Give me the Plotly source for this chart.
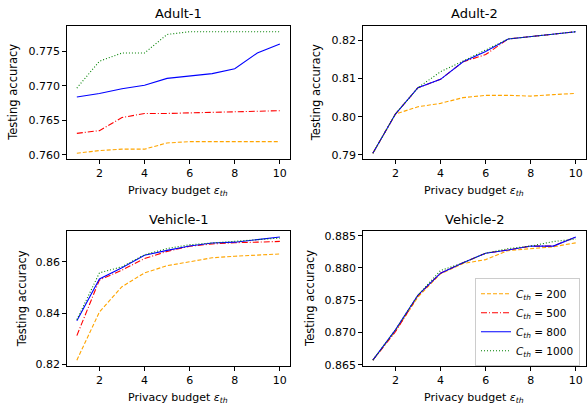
import plotly.graph_objects as go

eps = [1, 2, 3, 4, 5, 6, 7, 8, 9, 10]
c_labels = ["200", "500", "800", "1000"]

adult1_200 = [0.7602, 0.7606, 0.7608, 0.7608, 0.7617, 0.7619, 0.7619, 0.7619, 0.7619, 0.7619]
adult1_500 = [0.7631, 0.7635, 0.7654, 0.7660, 0.7660, 0.7661, 0.7662, 0.7663, 0.7664, 0.7664]
adult1_800 = [0.7684, 0.7689, 0.7696, 0.7701, 0.7711, 0.7714, 0.7718, 0.7725, 0.7748, 0.7761]
adult1_1000 = [0.7697, 0.7736, 0.7748, 0.7748, 0.7775, 0.7779, 0.7779, 0.7779, 0.7779, 0.7779]

adult2_200 = [0.7904, 0.8007, 0.8026, 0.8035, 0.8050, 0.8056, 0.8056, 0.8054, 0.8058, 0.8061]
adult2_500 = [0.7904, 0.8007, 0.8076, 0.8098, 0.8144, 0.8163, 0.8204, 0.8210, 0.8216, 0.8223]
adult2_800 = [0.7904, 0.8007, 0.8076, 0.8098, 0.8144, 0.8171, 0.8204, 0.8210, 0.8216, 0.8223]
adult2_1000 = [0.7904, 0.8007, 0.8076, 0.8118, 0.8146, 0.8176, 0.8204, 0.8210, 0.8216, 0.8223]

veh1_200 = [0.8216, 0.8404, 0.8503, 0.8557, 0.8585, 0.8600, 0.8616, 0.8622, 0.8626, 0.8631]
veh1_500 = [0.8312, 0.8529, 0.8568, 0.8613, 0.8641, 0.8661, 0.8670, 0.8675, 0.8677, 0.8680]
veh1_800 = [0.8370, 0.8533, 0.8577, 0.8626, 0.8645, 0.8662, 0.8674, 0.8677, 0.8687, 0.8697]
veh1_1000 = [0.8374, 0.8557, 0.8581, 0.8628, 0.8652, 0.8667, 0.8674, 0.8680, 0.8687, 0.8693]

veh2_200 = [0.8657, 0.8702, 0.8755, 0.8791, 0.8807, 0.8813, 0.8827, 0.8830, 0.8833, 0.8839]
veh2_500 = [0.8657, 0.8701, 0.8757, 0.8792, 0.8808, 0.8823, 0.8828, 0.8834, 0.8834, 0.8848]
veh2_800 = [0.8657, 0.8704, 0.8758, 0.8792, 0.8808, 0.8823, 0.8828, 0.8834, 0.8834, 0.8848]
veh2_1000 = [0.8657, 0.8704, 0.8758, 0.8796, 0.8808, 0.8823, 0.8830, 0.8834, 0.8841, 0.8845]

titles = ["Adult-1", "Adult-2", "Vehicle-1", "Vehicle-2"]
panels = [
    [adult1_200, adult1_500, adult1_800, adult1_1000],
    [adult2_200, adult2_500, adult2_800, adult2_1000],
    [veh1_200, veh1_500, veh1_800, veh1_1000],
    [veh2_200, veh2_500, veh2_800, veh2_1000],
]
ytick_fmt = [".3f", ".2f", ".2f", ".3f"]
ytick_dt = [0.005, 0.01, 0.02, 0.005]

colors = ["orange", "red", "blue", "green"]
dashes = ["4px,2px", "6px,2px,1px,2px", "solid", "1px,2px"]

W, H = 587, 412
FONT = "DejaVu Sans"

# panel boxes in pixels: (left, right, top, bottom)
boxes = [
    (66.7, 290.0, 25.0, 160.7),
    (362.7, 586.0, 25.0, 160.7),
    (66.7, 290.0, 233.3, 370.7),
    (362.7, 586.0, 233.3, 370.7),
]
ylabel_x = [13.3, 316.7, 21.7, 309.3]

fig = go.Figure()
annotations = []
for i, (series, title) in enumerate(zip(panels, titles)):
    n = i + 1
    xa = "x" if n == 1 else f"x{n}"
    ya = "y" if n == 1 else f"y{n}"
    for j, ys in enumerate(series):
        fig.add_trace(go.Scatter(
            x=eps, y=ys, mode="lines", xaxis=xa, yaxis=ya,
            line=dict(color=colors[j], width=1.1, dash=dashes[j]),
            name=f"<i>C</i><sub><i>th</i></sub> = {c_labels[j]}",
            showlegend=(n == 4),
        ))
    l, r, t, b = boxes[i]
    allv = [v for s in series for v in s]
    lo, hi = min(allv), max(allv)
    pad = (hi - lo) * 0.05
    axkw = dict(showline=True, linecolor="black", linewidth=1, mirror=True,
                ticks="outside", ticklen=3.5, tickwidth=1, tickcolor="black",
                showgrid=False, zeroline=False,
                tickfont=dict(family=FONT, size=11, color="black"))
    fig.layout[f"xaxis{'' if n == 1 else n}"] = dict(
        domain=[l / W, r / W], anchor=ya, range=[0.55, 10.45],
        tickvals=[2, 4, 6, 8, 10], **axkw)
    fig.layout[f"yaxis{'' if n == 1 else n}"] = dict(
        domain=[1 - b / H, 1 - t / H], anchor=xa, range=[lo - pad, hi + pad],
        dtick=ytick_dt[i], tick0=0, tickformat=ytick_fmt[i], **axkw)
    cx = (l + r) / 2 / W
    annotations.append(dict(text=title, x=cx, y=1 - (t - 12) / H, xref="paper", yref="paper",
                            xanchor="center", yanchor="middle", showarrow=False,
                            font=dict(family=FONT, size=13, color="black")))
    annotations.append(dict(text="Privacy budget <i>ε</i><sub><i>th</i></sub>",
                            x=cx, y=1 - (b + 32) / H, xref="paper", yref="paper",
                            xanchor="center", yanchor="middle", showarrow=False,
                            font=dict(family=FONT, size=11, color="black")))
    annotations.append(dict(text="Testing accuracy", x=ylabel_x[i] / W, y=1 - (t + b) / 2 / H,
                            xref="paper", yref="paper", textangle=-90,
                            xanchor="center", yanchor="middle", showarrow=False,
                            font=dict(family=FONT, size=11.5, color="black")))

fig.update_layout(
    width=W, height=H, margin=dict(l=0, r=0, t=0, b=0),
    paper_bgcolor="white", plot_bgcolor="white",
    annotations=annotations,
    legend=dict(x=580 / W, y=1 - 326 / H, xanchor="right", yanchor="middle",
                bgcolor="rgba(255,255,255,0.8)", bordercolor="#cccccc", borderwidth=1,
                font=dict(family=FONT, size=10.5, color="black"),
                tracegroupgap=0, itemwidth=30),
)

fig.write_html("out.html")
